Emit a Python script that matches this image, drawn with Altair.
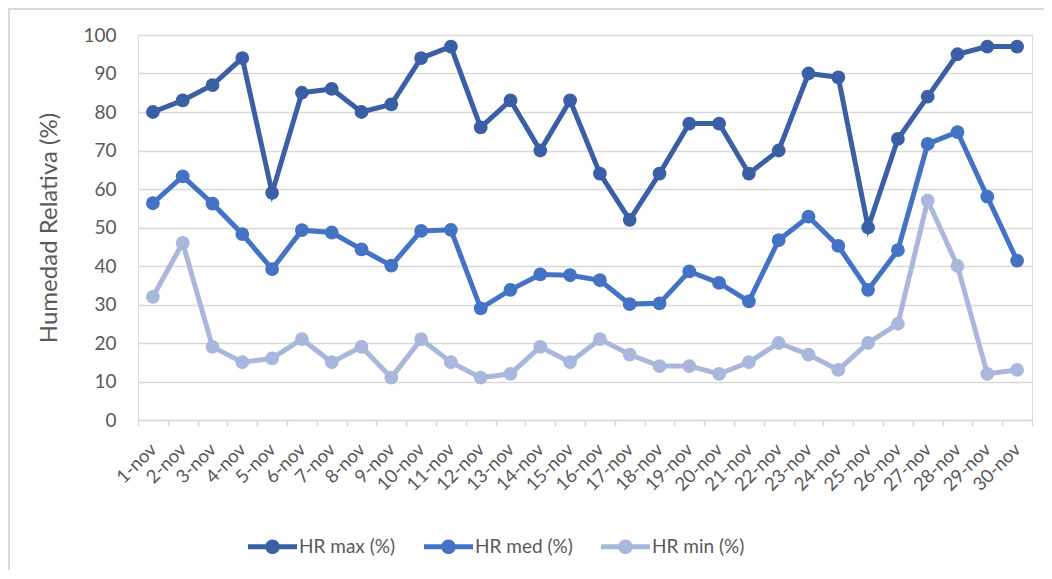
import altair as alt
import pandas as pd

dias = [f"{i}-nov" for i in range(1, 31)]
hr_max = [80, 83, 87, 94, 59, 85, 86, 80, 82, 94, 97, 76, 83, 70, 83,
          64, 52, 64, 77, 77, 64, 70, 90, 89, 50, 73, 84, 95, 97, 97]
hr_med = [56.3, 63.3, 56.2, 48.3, 39.2, 49.3, 48.7, 44.3, 40.1, 49.1, 49.4, 29.0, 33.8, 37.8, 37.6,
          36.3, 30.1, 30.3, 38.6, 35.6, 30.8, 46.7, 52.8, 45.2, 33.8, 44.1, 71.7, 74.8, 58.0, 41.4]
hr_min = [32, 46, 19, 15, 16, 21, 15, 19, 11, 21, 15, 11, 12, 19, 15,
          21, 17, 14, 14, 12, 15, 20, 17, 13, 20, 25, 57, 40, 12, 13]

series = ["HR max (%)", "HR med (%)", "HR min (%)"]
colors = ["#3A5FA5", "#4472C4", "#A9B7DC"]

rows = []
for name, vals in zip(series, [hr_max, hr_med, hr_min]):
    for d, v in zip(dias, vals):
        rows.append({"dia": d, "valor": v, "serie": name})
df = pd.DataFrame(rows)

FONT = "Lato"
GRID = "#D9D9D9"
TXT = "#595959"

sym = ("M -1 -0.1 L 1 -0.1 L 1 0.1 L -1 0.1 Z "
       "M 0.3 0 A 0.3 0.3 0 1 1 -0.3 0 A 0.3 0.3 0 1 1 0.3 0 Z")

x = alt.X("dia:N", sort=dias, bandPosition=0.5,
          scale=alt.Scale(type="band", paddingInner=0, paddingOuter=0),
          axis=alt.Axis(title=None, tickBand="extent", grid=False,
                        domainColor=GRID, domainWidth=1.5, tickColor=GRID, tickWidth=1.5,
                        tickSize=6, labelAngle=-45, labelAlign="right", labelBaseline="middle",
                        labelPadding=20, labelFont=FONT, labelFontSize=18.5, labelColor=TXT,
                        labelOverlap=False))
y = alt.Y("valor:Q", scale=alt.Scale(domain=[0, 100], nice=False),
          axis=alt.Axis(title="Humedad Relativa (%)", values=list(range(0, 101, 10)),
                        domain=False, ticks=False, gridColor=GRID, gridWidth=1.5,
                        labelPadding=22, labelFont=FONT, labelFontSize=19, labelColor=TXT,
                        titleFont=FONT, titleFontSize=24, titleColor=TXT, titleFontWeight="normal",
                        titlePadding=21))
color = alt.Color("serie:N", sort=series,
                  scale=alt.Scale(domain=series, range=colors),
                  legend=alt.Legend(title=None, orient="none", legendX=110, legendY=487,
                                    direction="horizontal", symbolType=sym, symbolSize=2401,
                                    symbolStrokeWidth=0, symbolOpacity=1,
                                    labelFont=FONT, labelFontSize=19, labelColor=TXT,
                                    labelOffset=2, columnPadding=28))

base = alt.Chart(df).encode(x=x, y=y, color=color)
lines = base.mark_line(strokeWidth=5)
pts = base.mark_point(filled=True, size=190, opacity=1)

border = alt.Chart(pd.DataFrame({"a": [0]})).mark_rect(
    fillOpacity=0, stroke=GRID, strokeWidth=2
).encode(x=alt.value(-129), x2=alt.value(940), y=alt.value(-26), y2=alt.value(700))

chart = alt.layer(border, lines, pts).properties(
    width=894, height=385,
    autosize=alt.AutoSizeParams(type="none"),
    padding={"left": 130, "top": 27, "right": 12, "bottom": 150},
).configure_view(stroke=None).configure(background="white")

chart.save("out.html", embed_options={"renderer": "svg", "actions": False})
